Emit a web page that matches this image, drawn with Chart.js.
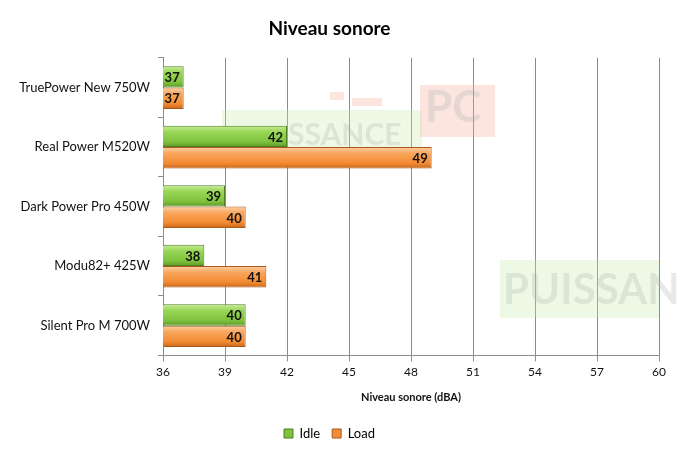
<!DOCTYPE html>
<html>
<head>
<meta charset="utf-8">
<script src="https://cdn.jsdelivr.net/npm/chart.js@4.4.1/dist/chart.umd.min.js"></script>
<style>
  html, body { margin: 0; padding: 0; background: #fff; }
  #wrap { width: 682px; height: 456px; }
</style>
</head>
<body>
<div id="wrap"><canvas id="noise"></canvas></div>
<script>
const categories = ['TruePower New 750W', 'Real Power M520W', 'Dark Power Pro 450W', 'Modu82+ 425W', 'Silent Pro M 700W'];
const idle = [37, 42, 39, 38, 40];
const load = [37, 49, 40, 41, 40];
const xTicks = [36, 39, 42, 45, 48, 51, 54, 57, 60];

const FONT = 'Lato, "Open Sans", sans-serif';

// bevel-ish vertical gradient for each bar
function barFill(stops, solid) {
  return (ctx) => {
    const el = ctx.element;
    if (!el || el.y == null || !el.height) return solid;
    const c = ctx.chart.ctx;
    const top = el.y - el.height / 2, bot = el.y + el.height / 2;
    const g = c.createLinearGradient(0, top, 0, bot);
    g.addColorStop(0, stops[0]);
    g.addColorStop(0.3, stops[1]);
    g.addColorStop(0.75, stops[2]);
    g.addColorStop(1, stops[3]);
    return g;
  };
}

const greenStops = ['#c7ec97', '#98d656', '#7fc23d', '#5d9a28'];
const orangeStops = ['#fdd0a4', '#f8a55c', '#f38b32', '#c9661c'];

// faint "PUISSANCE PC" marks in the background
const watermark = {
  id: 'watermark',
  beforeDatasetsDraw(chart) {
    const c = chart.ctx;
    c.save();
    c.fillStyle = 'rgba(200,235,170,0.3)';
    c.fillRect(222, 110, 200, 42);
    c.fillStyle = 'rgba(245,170,150,0.3)';
    c.fillRect(420, 85, 75, 52);
    c.fillRect(330, 92, 14, 8);
    c.fillRect(352, 98, 30, 8);
    c.fillStyle = 'rgba(200,235,170,0.3)';
    c.fillRect(500, 260, 159, 58);
    c.font = 'bold 30px ' + FONT;
    c.fillStyle = 'rgba(180,180,180,0.3)';
    c.textBaseline = 'middle';
    c.fillText('SSANCE', 288, 135);
    c.font = 'bold 44px ' + FONT;
    c.fillText('PC', 425, 108);
    c.font = 'bold 42px ' + FONT;
    c.fillText('PUISSAN', 503, 290);
    c.restore();
  }
};

const valueLabels = {
  id: 'valueLabels',
  afterDatasetsDraw(chart) {
    const c = chart.ctx;
    c.save();
    c.font = 'bold 13px ' + FONT;
    c.fillStyle = '#111';
    c.textAlign = 'right';
    c.textBaseline = 'middle';
    chart.data.datasets.forEach((ds, i) => {
      chart.getDatasetMeta(i).data.forEach((bar, j) => {
        c.fillText(ds.data[j], bar.x - 4, bar.y + 1);
      });
    });
    c.restore();
  }
};

const chart = new Chart(document.getElementById('noise'), {
  type: 'bar',
  data: {
    labels: categories,
    datasets: [
      {
        label: 'Idle',
        data: idle,
        backgroundColor: barFill(greenStops, '#8ccf48'),
        borderColor: '#4f7f23',
        borderWidth: 1,
        borderSkipped: false,
      },
      {
        label: 'Load',
        data: load,
        backgroundColor: barFill(orangeStops, '#f5913c'),
        borderColor: '#a85a1a',
        borderWidth: 1,
        borderSkipped: false,
      },
    ],
  },
  options: {
    indexAxis: 'y',
    responsive: true,
    maintainAspectRatio: false,
    animation: false,
    layout: { padding: { left: 0, right: 23, top: 0, bottom: 6 } },
    datasets: { bar: { categoryPercentage: 0.72, barPercentage: 1 } },
    scales: {
      x: {
        min: 36,
        max: 60,
        afterBuildTicks: (s) => { s.ticks = xTicks.map(v => ({ value: v })); },
        ticks: { color: '#111', font: { family: FONT, size: 12 }, padding: 4 },
        grid: { color: '#8c8c8c', tickLength: 6, lineWidth: 1 },
        border: { color: '#8c8c8c' },
        title: {
          display: true,
          text: 'Niveau sonore (dBA)',
          color: '#111',
          font: { family: FONT, size: 11, weight: 'bold' },
          padding: { top: 7, bottom: 11 },
        },
      },
      y: {
        afterFit: (s) => { s.width = 163; },
        ticks: { color: '#111', font: { family: FONT, size: 13 }, padding: 8 },
        grid: { drawOnChartArea: false, offset: true, tickLength: 5, color: '#8c8c8c' },
        border: { color: '#8c8c8c' },
      },
    },
    plugins: {
      tooltip: { enabled: false },
      title: {
        display: true,
        text: 'Niveau sonore',
        color: '#000',
        font: { family: FONT, size: 19, weight: 'bold' },
        padding: { top: 17, bottom: 18 },
      },
      legend: {
        position: 'bottom',
        labels: {
          boxWidth: 9,
          boxHeight: 9,
          padding: 12,
          color: '#111',
          font: { family: FONT, size: 13 },
          generateLabels: () => [
            { text: 'Idle', fillStyle: '#7fc23d', strokeStyle: '#4f7f23', lineWidth: 1, datasetIndex: 0 },
            { text: 'Load', fillStyle: '#f38b32', strokeStyle: '#a85a1a', lineWidth: 1, datasetIndex: 1 },
          ],
        },
      },
    },
  },
  plugins: [watermark, valueLabels],
});
// second pass so the gradients know where each bar sits
chart.update();
</script>
</body>
</html>
